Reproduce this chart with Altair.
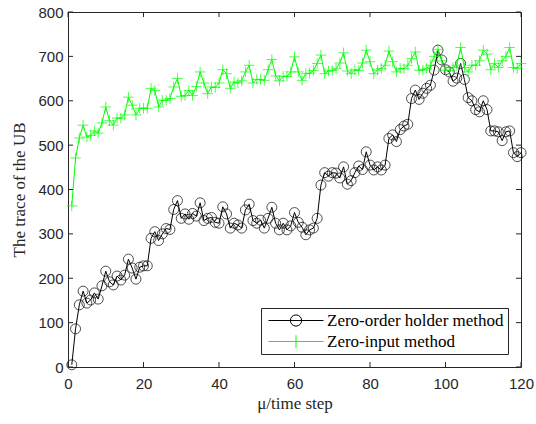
import altair as alt
import pandas as pd

steps = list(range(1, 121))
zoh = [5, 86, 140, 171, 144, 151, 167, 153, 183, 216,
       192, 185, 205, 196, 207, 243, 223, 198, 225, 228,
       228, 290, 305, 285, 300, 312, 310, 355, 375, 335,
       345, 333, 346, 340, 370, 330, 335, 337, 326, 324,
       361, 345, 313, 324, 320, 313, 354, 367, 330, 324,
       331, 313, 335, 360, 324, 309, 324, 309, 318, 348,
       326, 315, 298, 309, 313, 335, 410, 438, 430, 438,
       437, 426, 451, 412, 420, 438, 453, 445, 485, 455,
       444, 451, 444, 455, 515, 523, 508, 535, 543, 547,
       605, 624, 603, 617, 628, 635, 669, 714, 692, 670,
       665, 644, 651, 684, 648, 607, 600, 580, 575, 600,
       580, 532, 532, 530, 510, 530, 532, 483, 474, 483]
zi = [363, 471, 516, 545, 518, 522, 532, 527, 550, 586,
      555, 545, 561, 561, 568, 608, 590, 568, 583, 583,
      583, 628, 623, 586, 601, 601, 605, 631, 650, 610,
      612, 623, 612, 632, 665, 640, 616, 631, 630, 640,
      670, 661, 628, 642, 640, 645, 665, 680, 640, 648,
      648, 646, 670, 693, 656, 645, 655, 655, 665, 699,
      665, 646, 661, 662, 668, 684, 703, 661, 667, 668,
      672, 685, 708, 667, 661, 670, 668, 685, 714, 688,
      661, 669, 673, 680, 712, 688, 665, 673, 672, 680,
      695, 710, 669, 669, 673, 680, 700, 716, 690, 669,
      668, 675, 680, 720, 675, 665, 680, 680, 690, 714,
      705, 670, 684, 675, 690, 700, 720, 675, 673, 684]
names = ["Zero-order holder method", "Zero-input method"]
colors = ["#000000", "#00FF00"]
x_ticks = [0, 20, 40, 60, 80, 100, 120]
y_ticks = [0, 100, 200, 300, 400, 500, 600, 700, 800]

W, H = 453, 355
TICK = 5
AX = "#262626"
SERIF = "'Liberation Serif', 'Times New Roman', 'DejaVu Serif', serif"
SANS = "'Liberation Sans', Arial, Helvetica, sans-serif"

df = pd.DataFrame({
    "step": steps * 2,
    "value": zoh + zi,
    "series": [names[0]] * len(steps) + [names[1]] * len(steps),
})

xs = alt.Scale(domain=[0, 120], nice=False, zero=False)
ys = alt.Scale(domain=[0, 800], nice=False)

x_axis = alt.Axis(values=x_ticks, title="μ/time step", labelPadding=9, titlePadding=4,
                  labelFlush=False, labelOverlap=False)
y_axis = alt.Axis(values=y_ticks, title="The trace of the UB", labelPadding=5, titlePadding=9,
                  labelFlush=False, labelOverlap=False)
x_enc = alt.X("step:Q", scale=xs, axis=x_axis)
y_enc = alt.Y("value:Q", scale=ys, axis=y_axis)

plus_path = "M-1,0L1,0M0,-1L0,1"
marker_shapes = ["circle", plus_path]
marker_sizes = [100, 110]

layers = []
for name, col, shp, sz in zip(names, colors, marker_shapes, marker_sizes):
    base = alt.Chart(df).transform_filter(alt.datum.series == name)
    layers.append(base.mark_line(strokeWidth=1, color=col).encode(x=x_enc, y=y_enc))
    layers.append(base.mark_point(filled=False, strokeWidth=1, color=col, shape=shp, size=sz)
                  .encode(x=x_enc, y=y_enc))

# legend-only layer (invisible marks); symbols = line with marker
leg_circle = "M-1,0L10,0M5.625,0A1.125,1.125,0,1,1,3.375,0A1.125,1.125,0,1,1,5.625,0"
leg_plus = "M-1,0L10,0M4.5,-1.25L4.5,1.25"
legend = alt.Legend(title=None, orient="bottom-right", offset=13, padding=4,
                    labelFont=SERIF, labelFontSize=17, labelColor="#000000",
                    labelOffset=45, labelLimit=0, rowPadding=3,
                    strokeColor=AX, fillColor="white", symbolStrokeWidth=1,
                    symbolOpacity=1, symbolFillColor="transparent")
legend_layer = alt.Chart(df).mark_point(opacity=0, filled=False, size=64, strokeWidth=1).encode(
    x=x_enc, y=y_enc,
    color=alt.Color("series:N", scale=alt.Scale(domain=names, range=colors), legend=legend, sort=names),
    shape=alt.Shape("series:N", scale=alt.Scale(domain=names, range=[leg_circle, leg_plus]),
                    legend=legend, sort=names),
)

# inward ticks on all four sides
xt = pd.DataFrame({"step": x_ticks})
yt = pd.DataFrame({"value": y_ticks})
tx = alt.X("step:Q", scale=xs, axis=x_axis)
ty = alt.Y("value:Q", scale=ys, axis=y_axis)
tick_layers = [
    alt.Chart(xt).mark_rule(color=AX, strokeWidth=1).encode(x=tx, y=alt.value(H), y2=alt.value(H - TICK)),
    alt.Chart(xt).mark_rule(color=AX, strokeWidth=1).encode(x=tx, y=alt.value(0), y2=alt.value(TICK)),
    alt.Chart(yt).mark_rule(color=AX, strokeWidth=1).encode(y=ty, x=alt.value(0), x2=alt.value(TICK)),
    alt.Chart(yt).mark_rule(color=AX, strokeWidth=1).encode(y=ty, x=alt.value(W), x2=alt.value(W - TICK)),
]

chart = alt.layer(*layers, legend_layer, *tick_layers).properties(
    width=W, height=H,
    autosize=alt.AutoSizeParams(type="none"),
    padding={"left": 68, "top": 12, "right": 15, "bottom": 57},
    background="white",
).configure_view(
    stroke=AX, strokeWidth=1
).configure_axis(
    domain=False, ticks=False, grid=False,
    labelFont=SANS, labelFontSize=15, labelColor=AX,
    titleFont=SERIF, titleFontSize=17, titleFontWeight="normal", titleColor=AX,
)

chart.save("out.html", embed_options={"renderer": "svg", "actions": False})
